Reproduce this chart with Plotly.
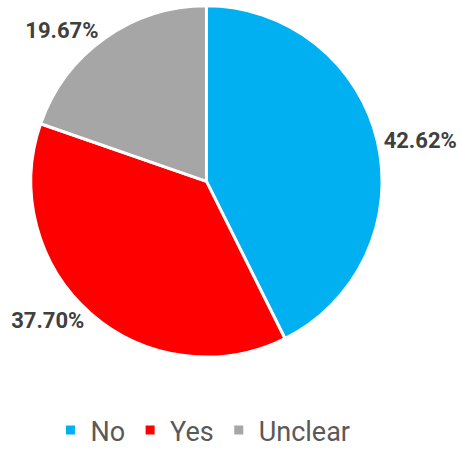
import plotly.graph_objects as go

categories = ["No", "Yes", "Unclear"]
shares = [42.62, 37.70, 19.67]
colors = ["#00B0F0", "#FF0000", "#A6A6A6"]

W, H = 462, 455

label_font = dict(family="Roboto", size=22, color="#404040", weight="bold")

fig = go.Figure(
    go.Pie(
        labels=categories,
        values=shares,
        sort=False,
        direction="clockwise",
        rotation=0,
        marker=dict(colors=colors, line=dict(color="white", width=3)),
        texttemplate="%{value:.2f}%",
        textposition="outside",
        textfont=label_font,
        outsidetextfont=label_font,
        domain=dict(x=[31 / W, 392 / W], y=[1 - 369 / H, 1 - 5 / H]),
        hoverinfo="label+percent",
    )
)

fig.update_layout(
    width=W,
    height=H,
    margin=dict(l=0, r=0, t=0, b=0),
    paper_bgcolor="white",
    plot_bgcolor="white",
    showlegend=True,
    legend=dict(
        orientation="h",
        x=0.45,
        xanchor="center",
        y=1 - 420 / H,
        yanchor="top",
        font=dict(family="Roboto", size=27, color="#595959"),
        itemwidth=30,
    ),
)

fig.write_html("out.html")
